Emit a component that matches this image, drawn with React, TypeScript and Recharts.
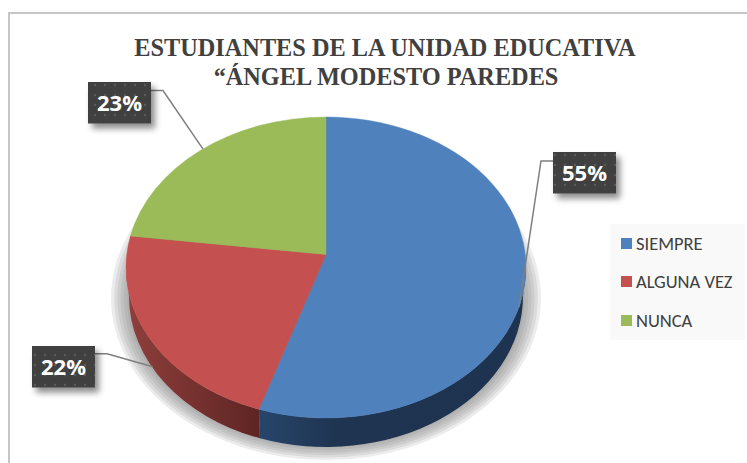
import React from "react";
import { PieChart, Pie, Cell } from "recharts";

const categories = ["SIEMPRE", "ALGUNA VEZ", "NUNCA"];
const values = [55, 22, 23];
const topColors = ["#4f81bd", "#c4514f", "#9bbb59"];
const sideColors = ["url(#sideBlue)", "url(#sideRed)", "url(#sideGreen)"];
const titleLines = ["ESTUDIANTES DE LA UNIDAD EDUCATIVA", "“ÁNGEL MODESTO PAREDES"];
const shadowSteps = [1, 0.985, 0.97, 0.955, 0.94, 0.925, 0.91];

const data = categories.map((name, i) => ({ name, value: values[i] }));

const W = 747;
const H = 463;
const CX = 326;
const CY = 267.5;
const RX = 200;
const SQUASH = 150.5 / 200;
const DEPTH = 29;
const LOWER_RX = 197;
const TILT = 0.086; // apparent shift of the pie's apex caused by perspective
const SHADOW_CY = 298;
const SHADOW_RX = 215;
const SHADOW_RY = 162;

const normalize = (d: number) => {
  let x = d;
  while (x > 180) x -= 360;
  while (x <= -180) x += 360;
  return x;
};

// true slice angle -> angle parameter on the drawn ellipse (perspective tilt)
const warp = (deg: number) => {
  const a = (deg * Math.PI) / 180;
  const x = Math.cos(a);
  const y = Math.sin(a);
  const den = 1 + TILT * y;
  const wx = (x * Math.sqrt(1 - TILT * TILT)) / den;
  const wy = (y + TILT) / den;
  const w = (Math.atan2(wy, wx) * 180) / Math.PI;
  return deg + normalize(w - deg);
};

const pt = (cx: number, cy: number, r: number, deg: number, ry = r * SQUASH) => {
  const a = (deg * Math.PI) / 180;
  return [cx + r * Math.cos(a), cy - ry * Math.sin(a)];
};

const TopSector = (p: any) => {
  const { cx, cy, outerRadius: r } = p;
  const s = warp(p.startAngle);
  const e = warp(p.endAngle);
  const [x0, y0] = pt(cx, cy, r, s);
  const [x1, y1] = pt(cx, cy, r, e);
  const large = Math.abs(e - s) > 180 ? 1 : 0;
  const apexY = cy - TILT * r * SQUASH;
  const d = `M${cx},${apexY}L${x0},${y0}A${r},${r * SQUASH} 0 ${large} 1 ${x1},${y1}Z`;
  return <path d={d} fill={p.fill} stroke={p.fill} strokeWidth={0.4} />;
};

const SideSector = (p: any) => {
  const { cx, cy, outerRadius: r } = p;
  const shadow =
    p.index === 0
      ? shadowSteps.map((k) => (
          <ellipse
            key={k}
            cx={cx}
            cy={SHADOW_CY}
            rx={SHADOW_RX * k}
            ry={SHADOW_RY * k}
            fill="#808080"
            fillOpacity={0.15}
            stroke="none"
          />
        ))
      : null;
  const a = Math.min(warp(p.startAngle), warp(p.endAngle));
  const b = Math.max(warp(p.startAngle), warp(p.endAngle));
  const ca = Math.max(a, -180);
  const cb = Math.min(b, 0);
  if (cb <= ca) return <g>{shadow}</g>;
  const ry = r * SQUASH;
  const [x0, y0] = pt(cx, cy, r, ca);
  const [x1, y1] = pt(cx, cy, r, cb);
  const [x2, y2] = pt(cx, cy + DEPTH, LOWER_RX, cb, ry);
  const [x3, y3] = pt(cx, cy + DEPTH, LOWER_RX, ca, ry);
  const d = `M${x0},${y0}A${r},${ry} 0 0 0 ${x1},${y1}L${x2},${y2}A${LOWER_RX},${ry} 0 0 1 ${x3},${y3}Z`;
  return (
    <g>
      {shadow}
      <path d={d} fill={p.fill} stroke="none" />
    </g>
  );
};

// badge box, leader elbow and the angle where the leader reaches the pie
const labelLayout = [
  { bx: 553, by: 152, elbow: [541, 161], edge: -15.2, drop: 0 },
  { bx: 32, by: 346, elbow: [107, 353.7], edge: -150, drop: 24 },
  { bx: 88, by: 82, elbow: [163, 90.5], edge: 128, drop: 0 },
];

const BadgeLabel = (p: any) => {
  const { bx, by, elbow, edge, drop } = labelLayout[p.index];
  const [ex, ey] = pt(CX, CY, RX, edge);
  const w = 63;
  const h = 41.5;
  const side = bx + w / 2 > elbow[0] ? bx : bx + w;
  return (
    <g>
      <polyline
        points={`${side},${elbow[1]} ${elbow[0]},${elbow[1]} ${ex},${ey + drop}`}
        fill="none"
        stroke="#7f7f7f"
        strokeWidth={1.5}
      />
      <rect x={bx} y={by} width={w} height={h} fill="#404040" filter="url(#badgeShadow)" />
      <rect x={bx} y={by} width={w} height={h} fill="url(#dots)" />
      <text
        x={bx + w / 2}
        y={by + h / 2 + 8}
        textAnchor="middle"
        fontFamily="'Open Sans', 'Noto Sans', sans-serif"
        fontWeight={700}
        fontSize={22}
        fill="#ffffff"
      >
        {`${p.value}%`}
      </text>
    </g>
  );
};

export default function App() {
  return (
    <div style={{ position: "absolute", left: 0, top: 0, width: W, height: H, background: "#ffffff", overflow: "hidden" }}>
      <div
        style={{
          position: "absolute",
          left: 8,
          top: 12,
          width: 760,
          height: 470,
          border: "2px solid #c6c6c6",
          boxSizing: "border-box",
        }}
      />
      <div
        style={{
          position: "absolute",
          left: 610,
          top: 224,
          width: 135,
          height: 116,
          background: "#f9f9f9",
          fontFamily: "Carlito, Lato, 'Open Sans', sans-serif",
          fontSize: 18.5,
          color: "#404040",
        }}
      >
        {categories.map((c, i) => (
          <div key={c} style={{ position: "absolute", left: 11, top: 8 + i * 38.5, height: 22, display: "flex", alignItems: "center", whiteSpace: "nowrap" }}>
            <span style={{ display: "inline-block", width: 11, height: 11, background: topColors[i], marginRight: 4 }} />
            {c}
          </div>
        ))}
      </div>
      <div style={{ position: "absolute", left: 0, top: 0 }}>
        <PieChart width={W} height={H} margin={{ top: 0, right: 0, bottom: 0, left: 0 }}>
          <defs>
            <filter id="badgeShadow" x="-30%" y="-30%" width="170%" height="180%">
              <feDropShadow dx="4" dy="5" stdDeviation="3" floodColor="#000000" floodOpacity="0.45" />
            </filter>
            <pattern id="dots" width="10" height="10" patternUnits="userSpaceOnUse">
              <circle cx="5" cy="5" r="1.2" fill="#5a5a5a" />
            </pattern>
            <linearGradient id="sideBlue" x1="0" y1="0" x2="1" y2="0">
              <stop offset="0" stopColor="#27456b" />
              <stop offset="0.3" stopColor="#1e3450" />
              <stop offset="1" stopColor="#1d334f" />
            </linearGradient>
            <linearGradient id="sideRed" x1="0" y1="0" x2="1" y2="0">
              <stop offset="0" stopColor="#8f3f3c" />
              <stop offset="1" stopColor="#5e2523" />
            </linearGradient>
            <linearGradient id="sideGreen" x1="0" y1="0" x2="1" y2="0">
              <stop offset="0" stopColor="#7a9446" />
              <stop offset="1" stopColor="#5f7436" />
            </linearGradient>
          </defs>
          <text
            textAnchor="middle"
            fontFamily="'Liberation Serif', serif"
            fontWeight={700}
            fontSize={24.3}
            fill="#404040"
          >
            <tspan x={385} y={56}>{titleLines[0]}</tspan>
            <tspan x={386} y={85}>{titleLines[1]}</tspan>
          </text>
          <Pie
            data={data}
            dataKey="value"
            cx={CX}
            cy={CY}
            outerRadius={RX}
            startAngle={90}
            endAngle={-270}
            stroke="none"
            shape={SideSector}
            isAnimationActive={false}
            legendType="none"
          >
            {data.map((d, i) => (
              <Cell key={d.name} fill={sideColors[i]} />
            ))}
          </Pie>
          <Pie
            data={data}
            dataKey="value"
            cx={CX}
            cy={CY}
            outerRadius={RX}
            startAngle={90}
            endAngle={-270}
            stroke="none"
            shape={TopSector}
            label={BadgeLabel}
            labelLine={false}
            isAnimationActive={false}
          >
            {data.map((d, i) => (
              <Cell key={d.name} fill={topColors[i]} />
            ))}
          </Pie>
        </PieChart>
      </div>
    </div>
  );
}
